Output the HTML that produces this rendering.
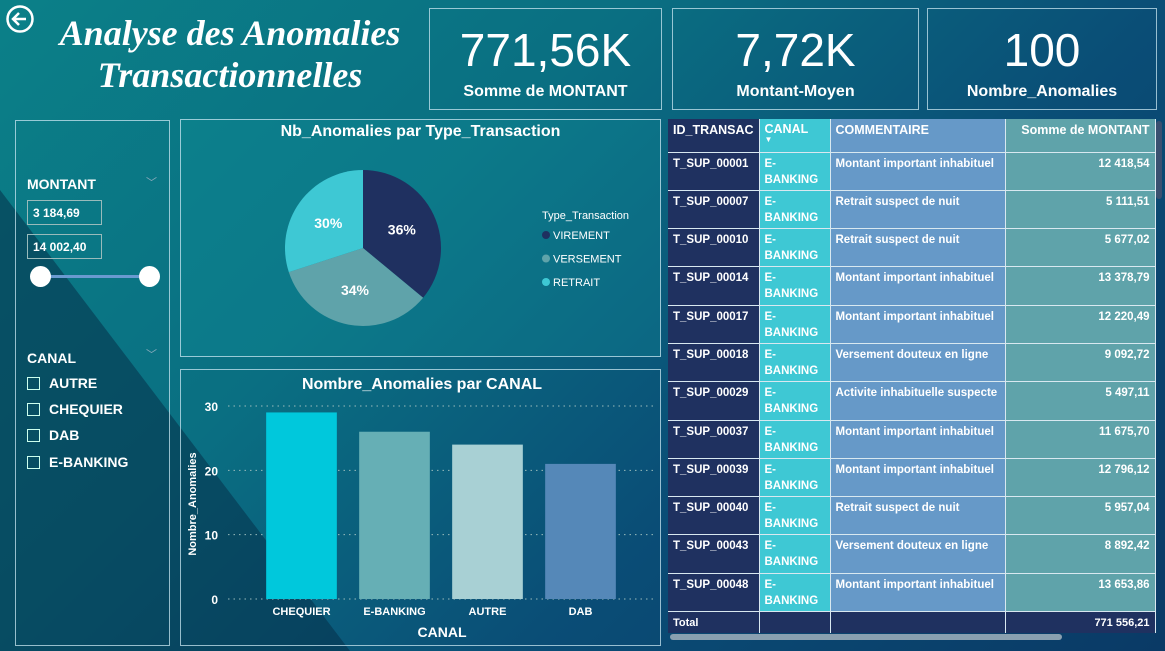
<!DOCTYPE html>
<html><head><meta charset="utf-8">
<style>
*{box-sizing:border-box;margin:0;padding:0}
body{width:1165px;height:651px;overflow:hidden;font-family:"Liberation Sans",sans-serif;color:#fff;position:relative;background:linear-gradient(135deg,#0b8088 0%,#0a6f82 35%,#0a4d76 65%,#0a3a66 100%)}
.abs{position:absolute}
.box{position:absolute;border:1.5px solid rgba(200,230,240,.75)}
.kpi .v{position:absolute;left:0;right:0;top:14px;text-align:center;font-size:46px}
.kpi .l{position:absolute;left:0;right:0;top:74px;text-align:center;font-size:16px;font-weight:bold}
table{border-collapse:collapse;font-size:11.5px;font-weight:bold;table-layout:fixed;width:487px}
tr.r{height:38.3px}
td{vertical-align:top;padding:3px 5px 0 5px;border-bottom:1.5px solid #d8e8f0;border-right:1.5px solid #d8e8f0;line-height:16px;white-space:nowrap;overflow:hidden}
tr.r td{height:38.3px}
td.c1{background:#1f3160}
td.c2{background:#3ec8d4;white-space:normal}
td.c3{background:#6699c8}
td.c4{background:#5fa3aa;text-align:right}
.cb{position:absolute;left:27px;width:13px;height:13px;border:1px solid #cfe;}
.cbl{position:absolute;left:49px;font-size:14px;font-weight:bold}
</style></head><body>
<svg class="abs" style="left:0;top:0" width="1165" height="651"><polygon points="0,190 350,651 0,651" fill="#063048" opacity="0.55"/></svg>

<svg class="abs" style="left:5px;top:4px" width="30" height="30"><circle cx="15" cy="15" r="12.5" fill="none" stroke="#fff" stroke-width="2.5"/><path d="M21 15H9M14 9l-6 6 6 6" fill="none" stroke="#fff" stroke-width="2.5"/></svg>
<div class="abs" style="left:20px;top:12px;width:420px;text-align:center;font-family:'Liberation Serif',serif;font-style:italic;font-weight:bold;font-size:36px;line-height:42px">Analyse des Anomalies<br>Transactionnelles</div>

<div class="box kpi" style="left:429px;top:8px;width:233px;height:102px"><div class="v">771,56K</div><div class="l">Somme de MONTANT</div></div>
<div class="box kpi" style="left:672px;top:8px;width:247px;height:102px"><div class="v">7,72K</div><div class="l">Montant-Moyen</div></div>
<div class="box kpi" style="left:927px;top:8px;width:230px;height:102px"><div class="v">100</div><div class="l">Nombre_Anomalies</div></div>

<div class="box" style="left:15px;top:120px;width:155px;height:526px"></div>
<div class="abs" style="left:27px;top:176px;font-size:14px;font-weight:bold">MONTANT</div>
<div class="abs" style="left:146px;top:174px;font-size:11px;color:#8ab">﹀</div>
<div class="abs" style="left:27px;top:200px;width:75px;height:25px;border:1.5px solid #9bb;font-size:12px;font-weight:bold;padding:5px 5px">3 184,69</div>
<div class="abs" style="left:27px;top:234px;width:75px;height:25px;border:1.5px solid #9bb;font-size:12px;font-weight:bold;padding:5px 5px">14 002,40</div>
<div class="abs" style="left:40px;top:275px;width:110px;height:3px;background:#6a9ad0"></div>
<div class="abs" style="left:30px;top:266px;width:21px;height:21px;border-radius:50%;background:#fff"></div>
<div class="abs" style="left:139px;top:266px;width:21px;height:21px;border-radius:50%;background:#fff"></div>
<div class="abs" style="left:27px;top:350px;font-size:14px;font-weight:bold">CANAL</div>
<div class="abs" style="left:146px;top:346px;font-size:11px;color:#8ab">﹀</div>
<div class="cb" style="top:377px"></div><div class="cbl" style="top:375px">AUTRE</div>
<div class="cb" style="top:403px"></div><div class="cbl" style="top:401px">CHEQUIER</div>
<div class="cb" style="top:429px"></div><div class="cbl" style="top:427px">DAB</div>
<div class="cb" style="top:456px"></div><div class="cbl" style="top:454px">E-BANKING</div>

<div class="box" style="left:180px;top:119px;width:481px;height:238px;background:rgba(20,150,160,.25)"></div>
<div class="abs" style="left:180px;top:123px;width:481px;text-align:center;font-size:16px;font-weight:bold">Nb_Anomalies par Type_Transaction</div>
<svg id="pie" class="abs" style="left:180px;top:119px" width="481" height="238"></svg>

<div class="box" style="left:180px;top:369px;width:481px;height:277px"></div>
<svg id="bar" class="abs" style="left:180px;top:369px" width="481" height="277"></svg>

<div class="abs" style="left:668px;top:119px;width:488px;height:514px;overflow:hidden">
<table>
<colgroup><col style="width:91px"><col style="width:71px"><col style="width:175px"><col style="width:150px"></colgroup>
<tr style="height:33px"><td class="c1" style="height:33px;font-size:12.5px">ID_TRANSAC</td><td class="c2" style="height:33px;font-size:12.5px;line-height:14px">CANAL<div style="font-size:8px;line-height:8px">▼</div></td><td class="c3" style="height:33px;font-size:12.5px">COMMENTAIRE</td><td class="c4" style="height:33px;font-size:12.5px">Somme de MONTANT</td></tr>
<tbody id="tb"></tbody>
<tr style="height:22px"><td class="c1" style="height:22px;font-size:11px">Total</td><td class="c1" style="height:22px"></td><td class="c1" style="height:22px"></td><td class="c1" style="height:22px;text-align:right;font-size:11px">771 556,21</td></tr>
</table></div>
<div class="abs" style="left:1156px;top:121px;width:6px;height:78px;border-radius:3px;background:#3a5070"></div>
<div class="abs" style="left:670px;top:634px;width:392px;height:6px;border-radius:3px;background:#8aa0b0"></div>

<script>
const rowIds=["T_SUP_00001","T_SUP_00007","T_SUP_00010","T_SUP_00014","T_SUP_00017","T_SUP_00018","T_SUP_00029","T_SUP_00037","T_SUP_00039","T_SUP_00040","T_SUP_00043","T_SUP_00048"];
const rowComments=["Montant important inhabituel","Retrait suspect de nuit","Retrait suspect de nuit","Montant important inhabituel","Montant important inhabituel","Versement douteux en ligne","Activite inhabituelle suspecte","Montant important inhabituel","Montant important inhabituel","Retrait suspect de nuit","Versement douteux en ligne","Montant important inhabituel"];
const rowAmounts=["12 418,54","5 111,51","5 677,02","13 378,79","12 220,49","9 092,72","5 497,11","11 675,70","12 796,12","5 957,04","8 892,42","13 653,86"];
const tb=document.getElementById('tb');
rowIds.forEach((id,i)=>{
 const tr=document.createElement('tr');
 tr.className='r';
 
 
 tr.innerHTML='<td class="c1">'+id+'</td><td class="c2">E-<br>BANKING</td><td class="c3">'+rowComments[i]+'</td><td class="c4">'+rowAmounts[i]+'</td>';
 tb.appendChild(tr);
});

const NS='http://www.w3.org/2000/svg';
function mk(p,t,a){const e=document.createElementNS(NS,t);for(const k in a)e.setAttribute(k,a[k]);p.appendChild(e);return e;}

// Pie
const pieLabels=["VIREMENT","VERSEMENT","RETRAIT"];
const pieValues=[36,34,30];
const pieColors=["#1f3060","#5fa3aa","#3ec8d4"];
const pie=document.getElementById('pie');
const cx=183,cy=129,r=78;
const tot=pieValues.reduce((a,b)=>a+b,0);
let ang=0;
pieValues.forEach((v,i)=>{
 const a0=ang,a1=ang+v/tot*2*Math.PI;ang=a1;
 const x0=cx+r*Math.sin(a0),y0=cy-r*Math.cos(a0),x1=cx+r*Math.sin(a1),y1=cy-r*Math.cos(a1);
 const s=mk(pie,'path',{d:`M${cx},${cy}L${x0},${y0}A${r},${r} 0 ${a1-a0>Math.PI?1:0} 1 ${x1},${y1}Z`,fill:pieColors[i]});
 
 
 const m=(a0+a1)/2;
 const t=mk(pie,'text',{x:cx+r*0.55*Math.sin(m),y:cy-r*0.55*Math.cos(m)+5,'text-anchor':'middle',fill:'#fff','font-size':14,'font-weight':'bold'});
 t.textContent=Math.round(v/tot*100)+'%';
 
 
});
const lt=mk(pie,'text',{x:362,y:100,fill:'#fff','font-size':11});lt.textContent='Type_Transaction';


pieLabels.forEach((l,i)=>{
 const g=mk(pie,'g',{});
 
 
 mk(g,'circle',{cx:366,cy:116+i*23.5,r:4,fill:pieColors[i]});
 const t=mk(g,'text',{x:373,y:120+i*23.5,fill:'#fff','font-size':11});t.textContent=l;
});

// Bar
const barCats=["CHEQUIER","E-BANKING","AUTRE","DAB"];
const barVals=[29,26,24,21];
const barColors=["#00c8dc","#66afb5","#a8d0d4","#5588b8"];
const yTicks=[0,10,20,30];
const bar=document.getElementById('bar');
const y0=230,yMax=30,yPix=193;
const ys=v=>y0-v/yMax*yPix;
const xL=75,xR=447,bw=(xR-xL)/barCats.length;
yTicks.forEach(t=>{
 mk(bar,'line',{x1:48,x2:475,y1:ys(t),y2:ys(t),stroke:'#9bb','stroke-dasharray':'1.5 4'});
 const tx=mk(bar,'text',{x:38,y:ys(t)+5,'text-anchor':'end',fill:'#fff','font-size':12,'font-weight':'bold'});tx.textContent=t;
 
 
});
barCats.forEach((c,i)=>{
 const x=xL+i*bw+bw*0.12,w=bw*0.76;
 const rc=mk(bar,'rect',{x:x,y:ys(barVals[i]),width:w,height:y0-ys(barVals[i]),fill:barColors[i]});
 
 
 const t=mk(bar,'text',{x:x+w/2,y:246,'text-anchor':'middle',fill:'#fff','font-size':11,'font-weight':'bold'});t.textContent=c;
 
 
});
const bt=mk(bar,'text',{x:242,y:20,'text-anchor':'middle',fill:'#fff','font-size':16,'font-weight':'bold'});bt.textContent='Nombre_Anomalies par CANAL';


const xt=mk(bar,'text',{x:262,y:268,'text-anchor':'middle',fill:'#fff','font-size':14,'font-weight':'bold'});xt.textContent='CANAL';


const yt=mk(bar,'text',{x:0,y:0,transform:'translate(16,135) rotate(-90)','text-anchor':'middle',fill:'#fff','font-size':11,'font-weight':'bold'});yt.textContent='Nombre_Anomalies';


</script>
</body></html>
